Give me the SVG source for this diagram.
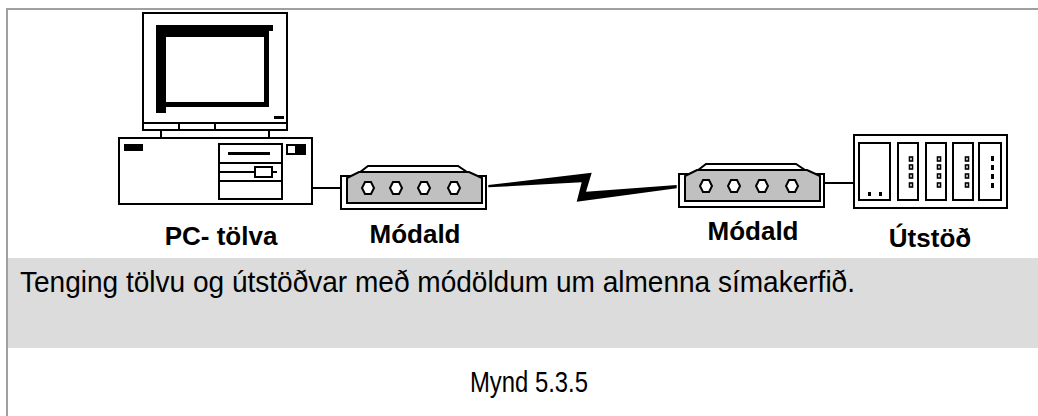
<svg xmlns="http://www.w3.org/2000/svg" width="1038" height="416" viewBox="0 0 1038 416">
  <style>
    .ln { fill: none; stroke: #000; stroke-width: 2; }
    .wb { fill: #fff; stroke: #000; stroke-width: 2; }
    .blk { fill: #000; }
    .lbl { font-family: "Liberation Sans", Arial, sans-serif; font-weight: bold; font-size: 26px; fill: #000; text-anchor: middle; }
    .cap { font-family: "Liberation Sans", Arial, sans-serif; font-size: 30px; fill: #000; }
  </style>
  <defs>
    <!-- one modem: casing, raised top, grey front panel, four indicator lights -->
    <g id="modem">
      <path class="wb" d="M0,10 L14,10 L27,0 L117,0 L132,10 L145,10 L145,43 L0,43 Z"/>
      <path d="M6,12 L18,6 L128,6 L141,12 L141,37 L6,37 Z" fill="#c0c0c0" stroke="#000" stroke-width="2"/>
      <g class="wb">
        <polygon points="24,16 30,16 33,22 30,28 24,28 21,22"/>
        <polygon points="52,16 58,16 61,22 58,28 52,28 49,22"/>
        <polygon points="80,16 86,16 89,22 86,28 80,28 77,22"/>
        <polygon points="110,16 116,16 119,22 116,28 110,28 107,22"/>
      </g>
    </g>
    <g id="led"><rect x="-1.5" y="-2" width="3" height="4" fill="none" stroke="#000" stroke-width="1.6"/></g>
  </defs>

  <rect width="1038" height="416" fill="#fff"/>
  <!-- frame -->
  <path d="M7,416 L7,9 L1038,9" fill="none" stroke="#a0a0a0" stroke-width="2"/>
  <rect x="8" y="258" width="1030" height="90" fill="#dcdcdc"/>

  <!-- connectors -->
  <g id="connectors">
    <line class="ln" x1="312" y1="188" x2="341" y2="188"/>
    <polygon class="blk" points="488.3,185 591.7,172.7 586,191.7 676.7,185 676.7,188.3 576.7,201.7 581.7,182.3 488.3,187.3"/>
    <line class="ln" x1="824" y1="183" x2="854" y2="183"/>
  </g>

  <!-- PC -->
  <g id="pc">
    <rect class="wb" x="143" y="13" width="144" height="117"/>
    <line class="ln" x1="143" y1="123" x2="287" y2="123"/>
    <line class="ln" x1="179" y1="123" x2="179" y2="130"/>
    <line class="ln" x1="215" y1="123" x2="215" y2="130"/>
    <path class="blk" d="M156,25 L273,25 L273,31 L269,31 L269,107 L166,107 L166,113 L156,113 Z M166,37 L166,102 L264,102 L264,37 Z" fill-rule="evenodd"/>
    <rect class="blk" x="274" y="116" width="10" height="3"/>
    <line class="ln" x1="161" y1="130" x2="161" y2="138"/>
    <line class="ln" x1="269" y1="130" x2="269" y2="138"/>
    <rect class="wb" x="119" y="138" width="193" height="66"/>
    <rect class="blk" x="124" y="144" width="19" height="7"/>
    <rect class="wb" x="219" y="144" width="63" height="55"/>
    <line class="ln" x1="219" y1="163" x2="282" y2="163"/>
    <line class="ln" x1="219" y1="181" x2="282" y2="181"/>
    <rect class="blk" x="228" y="152" width="42" height="3"/>
    <line class="ln" x1="220" y1="172" x2="277" y2="172"/>
    <rect class="wb" x="255" y="167" width="17" height="10"/>
    <rect class="wb" x="287" y="145" width="9" height="9"/>
    <rect class="blk" x="297" y="144" width="9" height="11"/>
    <text class="lbl" x="221" y="245">PC- tölva</text>
  </g>

  <!-- modem, computer side -->
  <g id="modem-left">
    <use href="#modem" x="341" y="166"/>
    <text class="lbl" x="415" y="243">Módald</text>
  </g>

  <!-- modem, terminal side -->
  <g id="modem-right">
    <use href="#modem" x="679" y="164"/>
    <text class="lbl" x="753" y="240">Módald</text>
  </g>

  <!-- terminal rack -->
  <g id="terminal">
    <rect class="wb" x="854" y="135" width="153" height="73"/>
    <rect class="wb" x="859" y="143" width="31" height="57"/>
    <rect class="blk" x="868" y="192" width="3" height="4"/>
    <rect class="blk" x="879" y="192" width="3" height="4"/>
    <rect class="wb" x="898" y="143" width="20" height="57"/>
    <rect class="wb" x="926" y="143" width="20" height="57"/>
    <rect class="wb" x="953" y="143" width="20" height="57"/>
    <rect class="wb" x="979" y="143" width="22" height="57"/>
    <use href="#led" x="911" y="159"/><use href="#led" x="911" y="167"/><use href="#led" x="911" y="176"/><use href="#led" x="911" y="185"/>
    <use href="#led" x="939" y="159"/><use href="#led" x="939" y="167"/><use href="#led" x="939" y="176"/><use href="#led" x="939" y="185"/>
    <use href="#led" x="967" y="159"/><use href="#led" x="967" y="167"/><use href="#led" x="967" y="176"/><use href="#led" x="967" y="185"/>
    <rect class="blk" x="991" y="156" width="3" height="5"/>
    <rect class="blk" x="991" y="165" width="3" height="5"/>
    <rect class="blk" x="991" y="174" width="3" height="5"/>
    <rect class="blk" x="991" y="183" width="3" height="5"/>
    <text class="lbl" x="930" y="247">Útstöð</text>
  </g>

  <text class="cap" x="20" y="292" textLength="835" lengthAdjust="spacingAndGlyphs">Tenging tölvu og útstöðvar með módöldum um almenna símakerfið.</text>
  <text class="cap" x="470" y="392" font-size="29" textLength="118" lengthAdjust="spacingAndGlyphs">Mynd 5.3.5</text>
</svg>
